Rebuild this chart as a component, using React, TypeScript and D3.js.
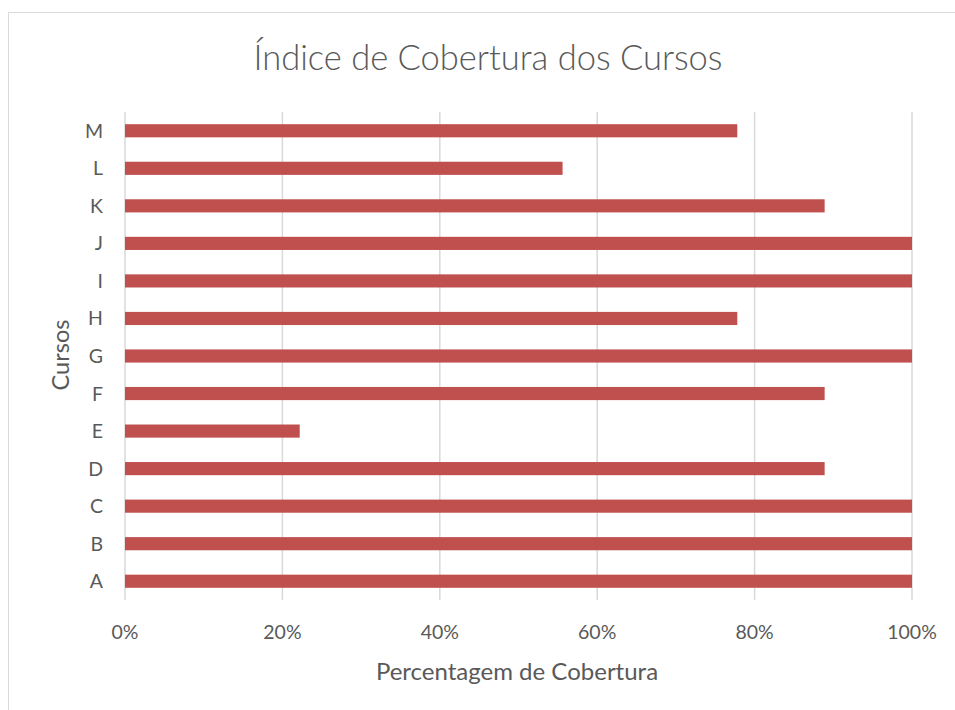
import React from "react";
import { scaleLinear, scaleBand } from "d3";

// courses, bottom to top as drawn
const cursos = ["A", "B", "C", "D", "E", "F", "G", "H", "I", "J", "K", "L", "M"];
const cobertura = [1, 1, 1, 0.889, 0.222, 0.889, 1, 0.778, 1, 1, 0.889, 0.556, 0.778];
const ticks = [0, 0.2, 0.4, 0.6, 0.8, 1];

const W = 955;
const H = 710;
const left = 125, right = 912, top = 112, bottom = 600;
const font = "Lato, 'Open Sans', sans-serif";

const App = () => {
  const x = scaleLinear().domain([0, 1]).range([left, right]);
  const y = scaleBand()
    .domain([...cursos].reverse())
    .range([top, bottom])
    .paddingInner(0.65)
    .paddingOuter(0.325);

  return (
    <svg
      width={W}
      height={H}
      style={{ position: "absolute", left: 0, top: 0 }}
      fontFamily={font}
    >
      <rect x={0} y={0} width={W} height={H} fill="#fff" />
      <rect x={8.5} y={12.5} width={W + 10} height={H + 10} fill="none" stroke="#d9d9d9" />
      <text x={488} y={70} textAnchor="middle" fontSize={34.5} fill="#595959" fontWeight={300}>
        Índice de Cobertura dos Cursos
      </text>
      {ticks.map((t) => (
        <g key={t}>
          <line x1={x(t)} x2={x(t)} y1={top} y2={bottom} stroke="#d9d9d9" strokeWidth={1.5} />
          <text x={x(t)} y={639} textAnchor="middle" fontSize={19.5} fill="#595959">
            {Math.round(t * 100)}%
          </text>
        </g>
      ))}
      {cursos.map((c, i) => (
        <g key={c}>
          <rect
            x={x(0)}
            y={y(c)}
            width={x(cobertura[i]) - x(0)}
            height={y.bandwidth()}
            fill="#c0504d"
          />
          <text
            x={103}
            y={(y(c) as number) + y.bandwidth() / 2}
            dy="0.36em"
            textAnchor="end"
            fontSize={19.5}
            fill="#595959"
          >
            {c}
          </text>
        </g>
      ))}
      <text x={517} y={680} textAnchor="middle" fontSize={24} fill="#595959">
        Percentagem de Cobertura
      </text>
      <text
        transform={`translate(69,355) rotate(-90)`}
        textAnchor="middle"
        fontSize={23.5}
        fill="#595959"
      >
        Cursos
      </text>
    </svg>
  );
};

export default App;
